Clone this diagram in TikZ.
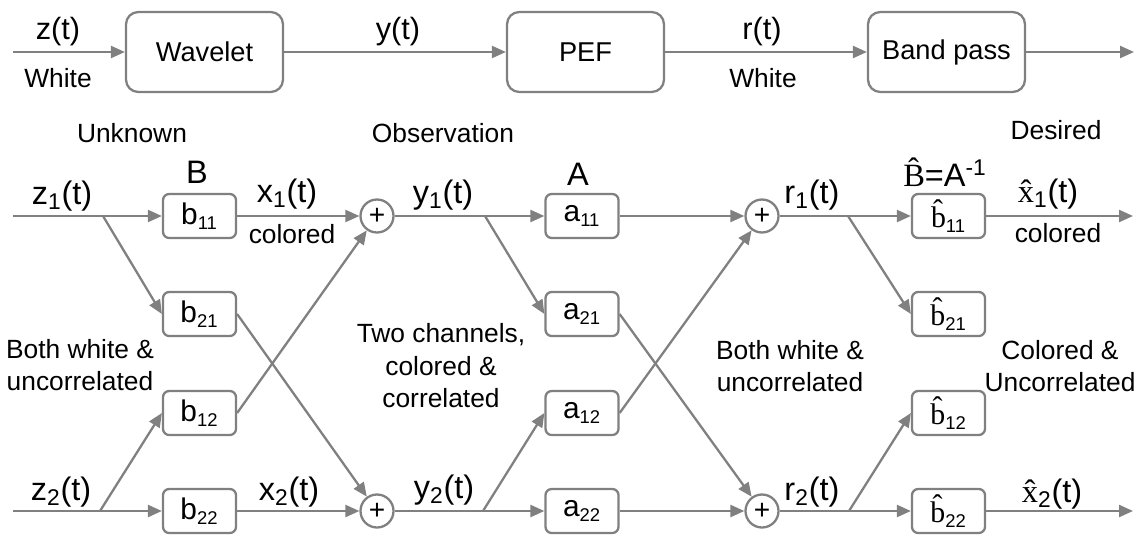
\documentclass[tikz,border=0pt]{standalone}
\usepackage{fontspec}
\setmainfont{Liberation Sans}
\newfontfamily\hatfont{Liberation Serif}
\usetikzlibrary{arrows.meta}
\definecolor{wiregray}{RGB}{128,128,128}
\newcommand{\idx}[1]{\textsubscript{\fontsize{10.5}{10.5}\selectfont #1}}

\begin{document}
\begin{tikzpicture}[
  x=0.02cm, y=-0.02cm,
  block/.style = {draw=wiregray, line width=1.3pt, rounded corners=7pt,
                  minimum width=3.14cm, minimum height=1.6cm,
                  font=\fontsize{15.5}{17}\selectfont},
  filt/.style  = {draw=wiregray, line width=1.3pt, rounded corners=3.5pt, inner sep=0pt,
                  minimum width=1.46cm, minimum height=0.88cm,
                  font=\fontsize{17}{19}\selectfont},
  sum/.style   = {circle, draw=wiregray, line width=1.3pt, inner sep=0pt,
                  minimum size=0.66cm, font=\fontsize{16}{18}\selectfont},
  wire/.style  = {draw=wiregray, line width=1.3pt},
  sig/.style   = {wire, -{Triangle[length=2.8mm,width=2.4mm]}},
  lbl/.style   = {font=\fontsize{18.5}{20}\selectfont, inner sep=0pt},
  toplbl/.style= {font=\fontsize{17.5}{19}\selectfont, inner sep=0pt},
  note/.style  = {font=\fontsize{15}{18.5}\selectfont, align=center, inner sep=0pt},
]
  \useasboundingbox (0,0) rectangle (1141,537);

  % single channel chain
  \node[block] (wav) at (204.5,52) {Wavelet};
  \node[block] (pef) at (585.5,52) {PEF};
  \node[block] (bp)  at (946.5,52) {Band pass};
  \coordinate (zin) at (13,52);
  \coordinate (rout) at (1134,52);

  \draw[sig] (zin) -- (wav);
  \draw[sig] (wav) -- (pef);
  \draw[sig] (pef) -- (bp);
  \draw[sig] (bp) -- (rout);

  \node[toplbl] at (58,32) {z(t)};
  \node[note]   at (58,78) {White};
  \node[toplbl] at (398,32) {y(t)};
  \node[toplbl] at (762,32) {r(t)};
  \node[note]   at (763,78) {White};

  % two channel network
  \node[note] at (132,133) {Unknown};
  \node[note] at (443,133) {Observation};
  \node[note] at (1056,130) {Desired};
  \node[lbl] at (197,172) {B};
  \node[lbl] at (578,174) {A};
  \node[lbl] at (945,172) {{\hatfont\^{B}}=A\textsuperscript{-1}};

  \node[filt] (b11) at (199.5,216) {b\idx{11}};
  \node[filt] (b21) at (199.5,314) {b\idx{21}};
  \node[filt] (b12) at (199.5,413) {b\idx{12}};
  \node[filt] (b22) at (199.5,511) {b\idx{22}};
  \node[filt] (a11) at (582,216) {a\idx{11}};
  \node[filt] (a21) at (582,314) {a\idx{21}};
  \node[filt] (a12) at (582,413) {a\idx{12}};
  \node[filt] (a22) at (582,511) {a\idx{22}};
  \node[filt] (h11) at (948.5,216) {{\hatfont\^{b}}\idx{11}};
  \node[filt] (h21) at (948.5,314) {{\hatfont\^{b}}\idx{21}};
  \node[filt] (h12) at (948.5,413) {{\hatfont\^{b}}\idx{12}};
  \node[filt] (h22) at (948.5,511) {{\hatfont\^{b}}\idx{22}};

  \node[sum] (s1) at (377,216) {+};
  \node[sum] (s2) at (377,511) {+};
  \node[sum] (s3) at (762,216) {+};
  \node[sum] (s4) at (762,511) {+};

  \coordinate (z1in) at (13,216);
  \coordinate (z2in) at (13,511);
  \coordinate (z1br) at (103,216);
  \coordinate (z2br) at (100,511);
  \coordinate (y1br) at (485,216);
  \coordinate (y2br) at (483,511);
  \coordinate (r1br) at (848,216);
  \coordinate (r2br) at (849,511);
  \coordinate (x1out) at (1133,216);
  \coordinate (x2out) at (1133,511);

  % mixing B
  \draw[sig] (z1in) -- (b11);
  \draw[sig] (z1br) -- (b21.west);
  \draw[sig] (z2in) -- (b22);
  \draw[sig] (z2br) -- (b12.west);
  \draw[sig] (b11) -- (s1);
  \draw[sig] (b12.east) -- (s1);
  \draw[sig] (b21.east) -- (s2);
  \draw[sig] (b22) -- (s2);

  % PEF matrix A
  \draw[sig] (s1) -- (a11);
  \draw[sig] (y1br) -- (a21.west);
  \draw[sig] (s2) -- (a22);
  \draw[sig] (y2br) -- (a12.west);
  \draw[sig] (a11) -- (s3);
  \draw[sig] (a12.east) -- (s3);
  \draw[sig] (a21.east) -- (s4);
  \draw[sig] (a22) -- (s4);

  % estimate of B
  \draw[sig] (s3) -- (h11);
  \draw[sig] (r1br) -- (h21.west);
  \draw[sig] (s4) -- (h22);
  \draw[sig] (r2br) -- (h12.west);
  \draw[sig] (h11) -- (x1out);
  \draw[sig] (h22) -- (x2out);

  \node[lbl] at (62,196) {z\textsubscript{1}(t)};
  \node[lbl] at (61,492) {z\textsubscript{2}(t)};
  \node[lbl] at (287,194) {x\textsubscript{1}(t)};
  \node[note] at (292,234) {colored};
  \node[lbl] at (289,492) {x\textsubscript{2}(t)};
  \node[lbl] at (443,195) {y\textsubscript{1}(t)};
  \node[lbl] at (444,490) {y\textsubscript{2}(t)};
  \node[lbl] at (812,195) {r\textsubscript{1}(t)};
  \node[lbl] at (812,492) {r\textsubscript{2}(t)};
  \node[lbl] at (1048,194) {{\hatfont\^{x}}\textsubscript{1}(t)};
  \node[note] at (1058,233) {colored};
  \node[lbl] at (1052,494) {{\hatfont\^{x}}\textsubscript{2}(t)};

  \node[note] at (80,365) {Both white \&\\uncorrelated};
  \node[note] at (441,366) {Two channels,\\colored \&\\correlated};
  \node[note] at (790,366) {Both white \&\\uncorrelated};
  \node[note] at (1060,366) {Colored \&\\Uncorrelated};
\end{tikzpicture}
\end{document}
